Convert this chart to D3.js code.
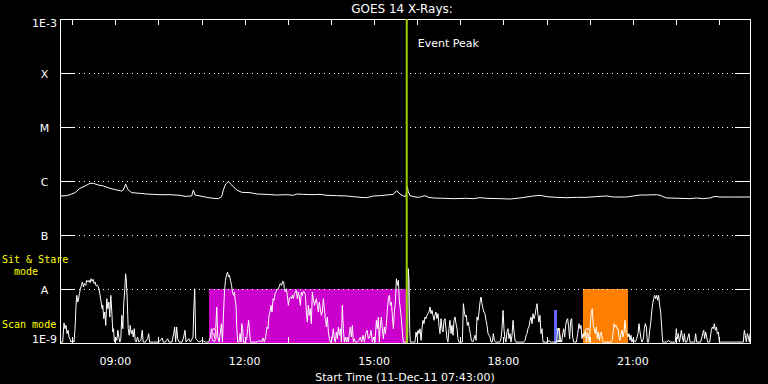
<!DOCTYPE html>
<html><head><meta charset="utf-8">
<script src="https://cdn.jsdelivr.net/npm/d3@7"></script>
<style>html,body{margin:0;padding:0;background:#000;overflow:hidden}</style>
</head><body><svg id="c" width="768" height="384"></svg>
<script>
// ---------- data ----------
const titleText = "GOES 14 X-Rays:";
const startTime = "2011-12-11 07:43:00";
const xAxisTitle = "Start Time (11-Dec-11 07:43:00)";
const spanMinutes = 960;
const levelValues = [1e-9, 1e-8, 1e-7, 1e-6, 1e-5, 1e-4, 1e-3];
const levelLabels = ["1E-9", "A", "B", "C", "M", "X", "1E-3"];
const hourTicks = ["08:00","09:00","10:00","11:00","12:00","13:00","14:00","15:00","16:00","17:00","18:00","19:00","20:00","21:00","22:00","23:00"];
const hourLabels = ["09:00","12:00","15:00","18:00","21:00"];
const eventPeakMinute = 482.4;
const eventLabel = "Event Peak";
// observing-mode intervals (minutes after start, top flux)
const modeNames = ["0", "1", "2"];
const modeFrom = [207.3, 687.3, 727.7];
const modeTo = [482.4, 691.5, 790.0];
const modeTop = [1e-8, 4.1e-9, 1e-8];
const modeColors = ["#cc00cc", "#6464ff", "#ff8000"];
const modeTextColors = ["#ffb4ff", "#ffffff", "#ffd2a0"];
const sideLabels = ["Sit & Stare", "  mode", "Scan mode"];

// long channel: [minutes after start, flux in 1e-7 W/m^2]
const longChannel = [[0,5.28],[9.3,5.35],[16.2,5.74],[20.9,6.08],[27.8,7.31],[34.8,8.08],[41.7,9.05],[46.4,9.05],[53.3,8.43],[60.3,8.08],[69.6,7.31],[78.8,6.81],[85.8,6.53],[88.1,6.81],[91.4,8.80],[94.2,7.01],[99.7,6.08],[111.3,5.91],[120.6,5.74],[129.9,5.66],[139.1,5.58],[153.1,5.58],[167.0,5.43],[173.9,5.20],[183.2,5.28],[185.5,6.81],[187.8,5.50],[194.8,5.28],[204.1,4.98],[213.3,4.78],[220.3,4.71],[224.9,5.13],[227.3,6.81],[230.5,8.80],[234.2,9.72],[238.9,8.43],[245.8,6.81],[252.8,6.17],[264.4,6.08],[273.6,5.74],[287.6,5.66],[301.5,5.50],[315.4,5.58],[324.7,5.43],[329.3,5.74],[338.6,5.66],[352.5,5.58],[361.8,5.66],[371.0,5.43],[384.9,5.35],[398.9,5.28],[408.1,5.13],[417.4,4.98],[426.7,4.91],[436.0,5.28],[445.2,5.35],[454.5,5.50],[463.8,5.66],[468.4,6.62],[473.1,5.74],[477.7,5.28],[481.0,5.13],[483.2,7.86],[484.6,6.35],[486.9,5.35],[491.6,5.13],[498.5,4.98],[503.1,5.13],[507.8,5.35],[512.4,4.98],[519.4,4.85],[533.3,4.78],[547.2,4.71],[565.8,4.78],[575.0,4.71],[584.3,4.91],[593.6,4.78],[612.1,4.71],[626.1,4.64],[640.0,4.85],[658.5,5.28],[667.8,5.43],[677.1,5.13],[691.0,4.98],[704.9,4.91],[718.8,4.98],[732.7,4.98],[751.3,5.20],[760.6,5.28],[769.8,5.05],[788.4,5.05],[797.7,5.28],[806.9,5.50],[816.2,5.50],[830.1,5.58],[834.8,5.43],[844.0,4.85],[862.6,4.78],[876.5,4.71],[885.8,4.85],[895.1,4.71],[904.3,4.85],[911.3,5.20],[918.2,5.05],[936.8,5.05],[960,5.05]];

// short channel: [minutes after start, flux in 1e-9 W/m^2]
const shortChannel = [[0,1.04],[3.7,1.04],[5.6,2.35],[7.0,1.84],[8.4,2.12],[9.8,1.49],[11.2,1.72],[12.6,1.29],[14.0,1.17],[15.3,1.04],[17.7,1.12],[19.5,1.04],[20.9,1.84],[22.3,4.98],[23.3,7.63],[24.7,5.74],[25.6,6.17],[27.0,8.19],[28.4,10.1],[29.8,11.7],[31.2,13.5],[32.6,10.9],[34.0,12.6],[35.8,11.7],[37.2,14.5],[39.1,13.5],[40.5,14.5],[41.9,13.1],[43.3,15.5],[44.6,13.9],[46.0,15.1],[47.4,12.6],[48.8,13.5],[50.2,11.4],[52.1,11.7],[54.0,10.4],[55.8,7.63],[57.2,5.74],[58.6,4.32],[59.5,4.98],[60.9,2.82],[62.3,3.75],[63.7,2.12],[65.1,6.62],[66.5,4.32],[67.9,5.74],[69.3,3.03],[70.7,7.63],[72.1,3.75],[73.5,1.60],[74.4,1.84],[75.8,1.04],[77.2,1.29],[79.1,1.12],[80.5,1.72],[81.9,1.29],[83.3,1.04],[84.6,1.20],[86.0,3.25],[87.4,1.84],[88.8,5.74],[90.2,10.1],[91.2,19.2],[92.1,15.5],[93.5,6.62],[94.9,1.84],[96.3,1.39],[97.7,2.12],[99.1,1.49],[100.5,1.72],[101.9,1.29],[103.3,1.84],[104.6,1.12],[106.0,1.04],[107.9,1.29],[109.8,1.04],[112.6,1.12],[114.4,1.72],[115.8,1.04],[118.6,1.04],[121.9,1.20],[123.3,1.49],[124.6,1.04],[130.2,1.04],[137.2,1.04],[139.5,1.12],[142.3,1.24],[143.7,1.04],[146.5,1.04],[149.8,1.20],[151.6,1.04],[155.8,1.04],[158.1,1.49],[159.5,1.98],[160.9,1.04],[162.3,1.98],[163.7,1.20],[165.6,1.04],[169.8,1.04],[172.1,1.29],[173.9,1.72],[175.3,1.04],[179.1,1.20],[181.4,1.04],[185.1,1.29],[186.0,3.75],[187.4,10.1],[188.8,1.20],[190.7,1.12],[193.5,1.04],[197.7,1.12],[202.3,1.04],[207.0,1.04],[209.3,1.29],[210.7,1.84],[212.1,1.49],[213.9,1.49],[215.3,1.20],[216.7,1.84],[218.1,4.64],[219.5,1.29],[221.4,1.04],[223.2,1.60],[224.6,2.28],[226.0,1.04],[227.4,3.25],[228.8,8.80],[230.2,14.5],[231.6,17.9],[233.0,20.6],[234.4,16.7],[235.8,17.9],[237.2,14.5],[238.6,11.7],[240.0,8.80],[241.4,7.63],[242.8,8.80],
[243.5,6.62],[244.9,4.98],[245.8,2.12],[247.2,1.04],[249.1,1.04],[250.5,1.49],[251.8,1.04],[252.8,2.28],[254.2,1.84],[255.1,1.04],[257.4,1.04],[259.7,1.20],[261.1,1.84],[262.5,2.63],[263.9,1.49],[265.3,1.04],[269.0,1.04],[272.3,1.04],[276.0,1.07],[278.3,1.12],[280.6,1.04],[282.5,1.24],[284.3,1.04],[286.2,1.29],[288.0,1.98],[289.4,1.84],[290.8,3.25],[292.2,3.75],[293.6,4.98],[295.0,3.75],[296.4,6.62],[297.8,6.17],[299.2,8.19],[300.5,8.80],[301.9,9.86],[303.8,10.1],[305.2,11.4],[306.6,12.6],[308.4,11.7],[309.8,13.9],[311.2,13.5],[312.1,10.1],[313.5,8.80],[314.9,10.1],[316.3,7.63],[317.7,4.98],[319.1,6.62],[320.5,7.11],[321.9,6.62],[323.3,7.63],[324.7,6.62],[326.1,8.19],[327.4,8.80],[328.8,9.45],[330.2,6.62],[331.6,8.80],[333.0,7.11],[334.4,4.98],[335.8,8.80],[337.2,7.63],[338.6,9.05],[340.0,8.80],[341.4,7.63],[342.8,3.75],[344.1,2.45],[345.5,4.98],[346.9,3.25],[348.3,4.32],[349.7,2.28],[351.1,8.80],[352.5,6.62],[353.9,4.98],[355.3,5.74],[356.7,6.62],[358.1,4.98],[359.5,3.75],[360.8,5.74],[362.2,4.32],[363.6,3.25],[365.0,3.75],[366.4,6.62],[367.8,4.32],[369.2,2.82],[370.6,1.98],[372.0,3.03],[373.4,1.60],[374.8,1.20],[376.1,1.04],[377.5,1.04],[378.9,1.29],[380.3,1.84],[381.7,1.20],[383.1,1.04],[384.5,1.60],[385.9,1.20],[387.3,1.98],[388.7,1.39],[390.1,1.84],[391.5,1.04],[392.8,4.98],[394.2,1.84],[395.6,1.04],[397.0,1.29],[398.4,1.04],[399.8,1.29],[401.2,1.04],[402.6,1.49],[404.0,1.98],[405.4,1.29],[406.8,2.12],[408.1,1.04],[409.5,1.20],[410.9,1.04],[413.7,1.04],[416.0,1.12],[417.9,1.29],[419.7,1.04],[421.6,1.39],[423.5,1.04],[425.3,1.49],[427.2,1.72],[429.0,1.20],[430.9,1.29],[432.7,1.72],[434.6,1.04],[436.4,1.29],[438.3,1.04],[440.2,2.63],[441.5,1.84],[442.9,3.03],[444.3,1.04],[445.7,2.12],[447.1,3.03],[448.5,1.84],[449.9,1.20],[451.3,1.98],[452.7,1.49],[454.1,2.28],[455.5,4.32],[456.8,6.62],[458.2,7.63],[459.6,4.98],[461.0,5.74],[462.4,3.25],[463.8,1.84],[465.2,3.75],[466.6,5.74],[468.0,15.5],[469.4,11.7],[470.8,14.5],[472.2,5.74],[473.5,4.32],[474.9,2.82],[476.3,1.60],[477.7,1.04],[480.0,1.04],[481.4,1.04],
[483.7,1.04],[484.6,23.8],[485.6,13.5],[486.5,1.84],[487.4,1.04],[491.6,1.04],[493.9,1.04],[495.3,1.60],[496.7,1.29],[498.1,1.72],[499.5,1.49],[500.9,1.84],[502.3,1.12],[503.7,1.84],[505.0,2.63],[506.4,2.28],[507.8,3.03],[509.2,2.82],[510.6,3.25],[512.0,3.49],[513.4,3.75],[514.8,4.64],[516.2,3.49],[517.6,4.03],[519.0,3.25],[520.4,2.63],[521.7,3.25],[523.1,3.75],[524.5,2.82],[525.9,3.49],[527.3,2.12],[528.7,1.49],[530.1,2.82],[531.5,1.84],[532.9,1.60],[534.3,2.63],[535.7,2.82],[537.0,1.84],[538.4,1.20],[539.8,1.04],[541.2,1.84],[542.6,2.63],[544.0,1.49],[545.4,2.12],[546.8,1.39],[548.2,2.63],[549.6,3.03],[551.0,2.28],[552.4,1.84],[553.7,1.20],[555.1,1.04],[557.9,1.04],[559.8,1.04],[561.2,5.35],[562.6,3.75],[563.9,3.03],[565.3,3.25],[566.7,2.12],[568.1,2.45],[569.5,1.84],[570.9,1.49],[572.3,1.12],[574.2,1.04],[576.0,1.20],[577.4,1.39],[578.8,1.12],[580.2,3.03],[581.6,2.63],[583.0,3.75],[584.4,5.74],[585.7,7.11],[587.1,5.35],[588.5,4.32],[589.9,3.75],[591.3,3.49],[592.7,2.63],[594.1,2.12],[595.5,1.49],[596.9,1.39],[598.3,1.29],[599.7,1.04],[601.5,1.04],[602.9,1.49],[604.3,1.12],[606.2,1.04],[608.9,1.04],[611.7,1.04],[613.6,1.20],[615.0,1.84],[616.4,4.03],[617.7,1.84],[619.1,1.20],[620.5,1.04],[621.9,1.60],[623.3,1.84],[624.7,1.20],[626.1,1.49],[627.5,1.04],[628.9,1.39],[630.3,2.63],[631.7,1.60],[633.1,1.12],[634.4,1.04],[637.7,1.04],[641.4,1.04],[645.1,1.04],[647.0,1.12],[648.4,1.39],[649.8,1.49],[651.1,1.84],[652.5,1.98],[653.9,2.63],[655.3,3.03],[656.7,2.28],[658.1,3.49],[659.5,2.82],[660.9,3.25],[662.3,4.32],[663.7,5.35],[665.1,3.25],[666.4,2.45],[667.8,3.25],[669.2,1.49],[670.6,1.84],[672.0,1.04],[674.8,1.04],[678.5,1.04],[680.4,1.12],[682.2,1.04],[684.1,1.04],[687.3,1.04],[691.0,1.04],[692.4,1.72],[693.8,1.84],[695.2,1.49],[696.6,1.12],[698.0,1.04],[699.4,1.49],[700.8,1.84],[702.2,1.29],[703.5,2.12],[704.9,2.63],[706.3,2.82],[707.7,1.98],[709.1,1.20],[710.5,2.63],[711.9,2.82],[713.3,1.29],[714.7,1.04],[716.5,1.04],[718.4,1.04],[720.3,1.49],
[722.1,2.28],[723.5,1.84],[724.9,2.12],[726.3,1.20],[727.7,1.49],[729.0,1.29],[730.9,1.72],[732.3,1.12],[733.7,1.60],[735.1,1.29],[736.5,1.04],[737.9,2.28],[739.3,3.75],[740.6,4.32],[742.0,1.98],[743.4,1.84],[744.8,1.49],[746.2,1.98],[747.6,1.20],[749.0,1.60],[750.4,1.12],[751.8,1.49],[753.2,1.60],[754.6,1.12],[755.9,1.04],[757.8,1.04],[760.6,1.04],[763.4,1.04],[766.2,1.04],[768.0,1.12],[769.4,1.49],[770.8,2.28],[772.2,1.98],[773.6,2.12],[775.0,1.84],[776.4,1.84],[777.7,1.29],[779.1,1.12],[780.5,1.49],[781.9,1.72],[783.3,1.29],[784.7,1.60],[786.1,2.63],[787.5,1.60],[788.9,1.49],[790.3,1.29],[791.7,1.49],[793.1,1.12],[794.4,1.39],[795.8,1.04],[797.2,1.20],[798.6,1.12],[800.5,1.04],[802.3,1.20],[804.2,1.49],[805.6,2.28],[807.0,1.60],[808.4,1.20],[809.7,1.04],[811.6,1.20],[813.0,1.84],[814.4,2.28],[815.8,1.98],[817.2,1.04],[819.0,1.04],[820.4,1.72],[821.8,2.28],[823.2,3.75],[824.6,5.35],[826.0,6.62],[827.4,7.63],[828.8,6.62],[830.2,7.63],[831.5,6.17],[832.9,7.63],[834.3,4.98],[835.7,3.75],[837.1,1.98],[838.5,1.04],[840.4,1.04],[843.6,1.04],[846.9,1.12],[848.7,1.04],[852.9,1.04],[856.1,1.04],[857.5,1.84],[858.9,1.20],[860.3,1.49],[861.7,1.04],[863.1,1.29],[864.5,1.72],[865.9,1.29],[867.3,1.04],[868.7,1.49],[870.0,1.04],[871.9,1.04],[873.8,1.29],[875.1,1.49],[876.5,1.04],[878.4,1.04],[880.7,1.04],[883.0,1.04],[884.4,1.49],[885.8,1.04],[887.7,1.04],[891.4,1.04],[894.2,1.49],[895.6,1.72],[896.9,1.20],[898.3,1.60],[899.7,1.29],[901.1,1.04],[903.9,1.04],[906.2,1.72],[907.6,1.98],[909.0,1.84],[910.4,2.28],[911.8,1.72],[913.2,1.98],[914.6,1.49],[916.0,1.60],[917.4,1.04],[920.1,1.04],[924.8,1.04],[929.4,1.04],[934.0,1.04],[938.7,1.04],[943.3,1.04],[948.0,1.04],[950.7,1.04],[952.1,1.72],[953.5,1.39],[954.9,1.04],[956.3,1.49],[957.7,1.29],[959.1,1.04],[960,1.49]];

// ---------- drawing ----------
const W = 768, H = 384;
const M = {left: 60, right: 750, top: 19, bottom: 343};
const FONT = "'DejaVu Sans', sans-serif";
const MONO = "'DejaVu Sans Mono', monospace";
const svg = d3.select("#c");
svg.append("rect").attr("width", W).attr("height", H).attr("fill", "#000");

const parse = d3.timeParse("%Y-%m-%d %H:%M:%S");
const t0 = parse(startTime);
const at = m => new Date(t0.getTime() + m * 60000);
const dayStr = startTime.slice(0, 10) + " ";
const atClock = s => parse(dayStr + s + ":00");

const x = d3.scaleTime().domain([t0, at(spanMinutes)]).range([M.left, M.right]);
const y = d3.scaleLog().domain([levelValues[0], levelValues[levelValues.length - 1]]).range([M.bottom, M.top]);

svg.append("defs").append("clipPath").attr("id", "plot")
  .append("rect").attr("x", M.left).attr("y", M.top - 10)
  .attr("width", M.right - M.left).attr("height", M.bottom - M.top + 10);

// mode intervals
const modes = modeNames.map((n, i) => ({name: n, from: modeFrom[i], to: modeTo[i], top: modeTop[i], color: modeColors[i], tcolor: modeTextColors[i]}));
svg.append("g").selectAll("rect").data(modes).join("rect")
  .attr("x", d => x(at(d.from)))
  .attr("y", d => y(d.top))
  .attr("width", d => x(at(d.to)) - x(at(d.from)))
  .attr("height", d => y(levelValues[0]) - y(d.top))
  .attr("fill", d => d.color)
  .attr("shape-rendering", "crispEdges");

// level grid lines (dotted) with solid end ticks
const inner = levelValues.slice(1, -1);
const grid = svg.append("g").attr("stroke", "#fff").attr("shape-rendering", "crispEdges");
grid.selectAll("line.dot").data(inner).join("line").attr("class", "dot")
  .attr("x1", M.left).attr("x2", M.right)
  .attr("y1", d => Math.round(y(d)) + 0.5).attr("y2", d => Math.round(y(d)) + 0.5)
  .attr("stroke-dasharray", "1,3.8");
grid.selectAll("line.tl").data(inner).join("line").attr("class", "tl")
  .attr("x1", M.left).attr("x2", M.left + 15)
  .attr("y1", d => Math.round(y(d)) + 0.5).attr("y2", d => Math.round(y(d)) + 0.5);
grid.selectAll("line.tr").data(inner).join("line").attr("class", "tr")
  .attr("x1", M.right - 15).attr("x2", M.right)
  .attr("y1", d => Math.round(y(d)) + 0.5).attr("y2", d => Math.round(y(d)) + 0.5);

// data lines
const line = d3.line()
  .x(d => x(at(d[0])))
  .y(d => y(Math.max(d[1], levelValues[0])));
const g = svg.append("g").attr("clip-path", "url(#plot)");
g.append("path").datum(longChannel.map(d => [d[0], d[1] * 1e-7]))
  .attr("d", line).attr("fill", "none").attr("stroke", "#fff").attr("stroke-width", 1);
g.append("path").datum(shortChannel.map(d => [d[0], d[1] * 1e-9]))
  .attr("d", line).attr("fill", "none").attr("stroke", "#fff").attr("stroke-width", 1);

// frame
const frame = svg.append("g").attr("stroke", "#fff").attr("fill", "none").attr("shape-rendering", "crispEdges");
frame.append("rect").attr("x", M.left + 0.5).attr("y", M.top + 0.5)
  .attr("width", M.right - M.left).attr("height", M.bottom - M.top);
frame.append("line").attr("x1", M.left).attr("x2", M.right + 1).attr("y1", M.bottom).attr("y2", M.bottom);

// hour ticks top and bottom
const tickDates = hourTicks.map(atClock);
frame.selectAll("line.tt").data(tickDates).join("line").attr("class", "tt")
  .attr("x1", d => Math.round(x(d)) + 0.5).attr("x2", d => Math.round(x(d)) + 0.5)
  .attr("y1", M.top).attr("y2", M.top + 6);
frame.selectAll("line.tb").data(tickDates).join("line").attr("class", "tb")
  .attr("x1", d => Math.round(x(d)) + 0.5).attr("x2", d => Math.round(x(d)) + 0.5)
  .attr("y1", M.bottom).attr("y2", M.bottom - 6);

// mode numbers
svg.append("g").selectAll("text").data(modes).join("text")
  .attr("transform", d => `translate(${x(at(d.from)) + 1.5},${M.bottom - 1}) scale(0.55,1)`)
  .attr("font-family", FONT).attr("font-size", 20)
  .attr("fill", d => d.tcolor).text(d => d.name);

// event peak line
const ex = x(at(eventPeakMinute));
svg.append("line").attr("x1", ex).attr("x2", ex).attr("y1", M.top).attr("y2", M.bottom)
  .attr("stroke", "#a0d000").attr("stroke-width", 2);
svg.append("text").attr("x", ex + 11).attr("y", 47)
  .attr("font-family", FONT).attr("font-size", 11).attr("fill", "#fff").text(eventLabel);

// y labels
svg.append("g").selectAll("text").data(levelValues).join("text")
  .attr("x", 44.5)
  .attr("y", (d, i) => y(d) + (i === 0 ? 0 : i === levelValues.length - 1 ? 8 : 4.5))
  .attr("text-anchor", "middle").attr("font-family", FONT).attr("font-size", 11)
  .attr("fill", "#fff").text((d, i) => levelLabels[i]);

// x labels
svg.append("g").selectAll("text").data(hourLabels).join("text")
  .attr("x", d => x(atClock(d))).attr("y", 365)
  .attr("text-anchor", "middle").attr("font-family", FONT).attr("font-size", 11)
  .attr("fill", "#fff").text(d => d);
svg.append("text").attr("x", (M.left + M.right) / 2).attr("y", 381)
  .attr("text-anchor", "middle").attr("font-family", FONT).attr("font-size", 11)
  .attr("fill", "#fff").text(xAxisTitle);

// title
svg.append("text").attr("x", 402).attr("y", 13)
  .attr("text-anchor", "middle").attr("font-family", FONT).attr("font-size", 12)
  .attr("fill", "#fff").text(titleText);

// side mode labels
const nb = s => s.replace(/ /g, "\u00a0");
const side = svg.append("g").attr("font-family", MONO).attr("font-size", 10).attr("fill", "#ffff00");
side.append("text").attr("x", 2).attr("y", 263).text(nb(sideLabels[0]));
side.append("text").attr("x", 2).attr("y", 275).text(nb(sideLabels[1]));
side.append("text").attr("x", 2).attr("y", 328).text(nb(sideLabels[2]));
</script>
</body></html>
